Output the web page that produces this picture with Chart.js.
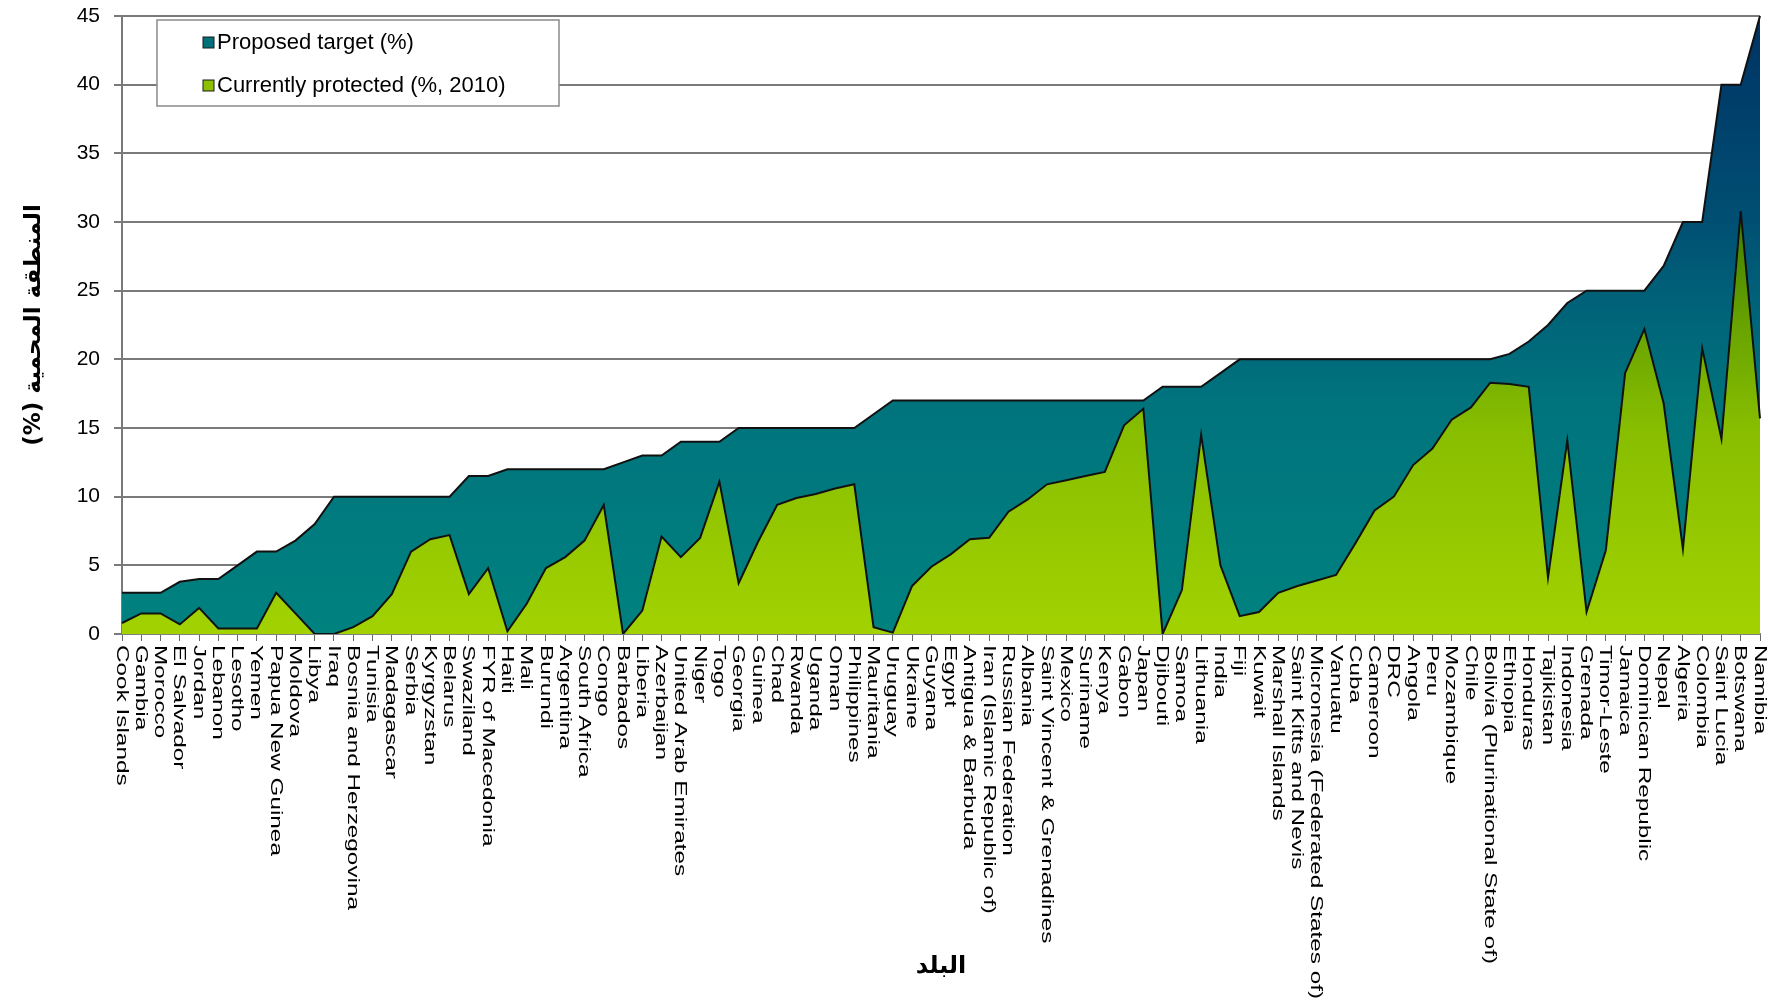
<!DOCTYPE html>
<html>
<head>
<meta charset="utf-8">
<title>Protected areas</title>
<script src="https://cdn.jsdelivr.net/npm/chart.js@4.4.1/dist/chart.umd.min.js"></script>
<style>
  html, body { margin: 0; padding: 0; background: #fff; }
  #wrap { width: 1784px; height: 1001px; position: relative; }
</style>
</head>
<body>
<div id="wrap"><canvas id="areaChart"></canvas></div>
<script>
// countries, ordered as in the original figure
var countries = [
    'Cook Islands', 'Gambia', 'Morocco', 'El Salvador', 'Jordan', 'Lebanon', 'Lesotho', 'Yemen',
    'Papua New Guinea', 'Moldova', 'Libya', 'Iraq', 'Bosnia and Herzegovina', 'Tunisia', 'Madagascar',
    'Serbia', 'Kyrgyzstan', 'Belarus', 'Swaziland', 'FYR of Macedonia', 'Haiti', 'Mali', 'Burundi',
    'Argentina', 'South Africa', 'Congo', 'Barbados', 'Liberia', 'Azerbaijan', 'United Arab Emirates',
    'Niger', 'Togo', 'Georgia', 'Guinea', 'Chad', 'Rwanda', 'Uganda', 'Oman', 'Philippines',
    'Mauritania', 'Uruguay', 'Ukraine', 'Guyana', 'Egypt', 'Antigua & Barbuda',
    'Iran (Islamic Republic of)', 'Russian Federation', 'Albania', 'Saint Vincent & Grenadines',
    'Mexico', 'Suriname', 'Kenya', 'Gabon', 'Japan', 'Djibouti', 'Samoa', 'Lithuania', 'India', 'Fiji',
    'Kuwait', 'Marshall Islands', 'Saint Kitts and Nevis', 'Micronesia (Federated States of)',
    'Vanuatu', 'Cuba', 'Cameroon', 'DRC', 'Angola', 'Peru', 'Mozambique', 'Chile',
    'Bolivia (Plurinational State of)', 'Ethiopia', 'Honduras', 'Tajikistan', 'Indonesia', 'Grenada',
    'Timor-Leste', 'Jamaica', 'Dominican Republic', 'Nepal', 'Algeria', 'Colombia', 'Saint Lucia',
    'Botswana', 'Namibia'
];

var proposedTarget = [
    3, 3, 3, 3.8, 4, 4, 5, 6, 6, 6.8, 8, 10, 10, 10, 10, 10, 10, 10, 11.5, 11.5,
    12, 12, 12, 12, 12, 12, 12.5, 13, 13, 14, 14, 14, 15, 15, 15, 15, 15, 15, 15, 16,
    17, 17, 17, 17, 17, 17, 17, 17, 17, 17, 17, 17, 17, 17, 18, 18, 18, 19, 20, 20,
    20, 20, 20, 20, 20, 20, 20, 20, 20, 20, 20, 20, 20.4, 21.3, 22.5, 24.1, 25, 25, 25, 25,
    26.8, 30, 30, 40, 40, 45
];

var currentlyProtected = [
    0.8, 1.5, 1.5, 0.7, 1.9, 0.4, 0.4, 0.4, 3.0, 1.5, 0, 0, 0.5, 1.3, 2.9, 6.0, 6.9, 7.2, 2.9, 4.8,
    0.2, 2.2, 4.8, 5.6, 6.8, 9.4, 0, 1.7, 7.1, 5.6, 7.0, 11.1, 3.7, 6.7, 9.4, 9.9, 10.2, 10.6, 10.9, 0.5,
    0.1, 3.5, 4.9, 5.8, 6.9, 7.0, 8.9, 9.8, 10.9, 11.2, 11.5, 11.8, 15.2, 16.4, 0, 3.2, 14.5, 5.0, 1.3, 1.6,
    3.0, 3.5, 3.9, 4.3, 6.6, 9.0, 10.0, 12.3, 13.5, 15.6, 16.5, 18.3, 18.2, 18.0, 4.1, 14.1, 1.6, 6.1, 19.0, 22.2,
    16.8, 6.2, 20.8, 14.2, 30.8, 15.7
];

var yTicks = [0, 5, 10, 15, 20, 25, 30, 35, 40, 45];

var FONT = '"Liberation Sans", Arial, Helvetica, sans-serif';
var AR_FONT = '"DejaVu Sans", "Noto Sans", sans-serif';

// vertical gradient tied to the y scale
function vGrad(context, stops) {
    var chart = context.chart;
    if (!chart.chartArea) return stops[0][1];
    var y = chart.scales.y;
    var g = chart.ctx.createLinearGradient(0, y.getPixelForValue(0), 0, y.getPixelForValue(45));
    stops.forEach(function(s) { g.addColorStop(s[0], s[1]); });
    return g;
}

var tealStops = [[0, '#00827f'], [0.38, '#00737d'], [0.56, '#005f78'], [0.67, '#004f72'], [0.9, '#003b69'], [1, '#00325f']];
var greenStops = [[0, '#a2d200'], [0.33, '#88be00'], [0.5, '#68a300'], [0.69, '#3c7b00'], [1, '#2a6000']];

// x labels: rotated clockwise, reading downwards like the original
var xLabelPlugin = {
    id: 'xLabels',
    afterDraw: function(chart) {
        var ctx = chart.ctx;
        var xs = chart.scales.x;
        ctx.save();
        ctx.font = '16px ' + FONT;
        ctx.fillStyle = '#000';
        ctx.textAlign = 'left';
        ctx.textBaseline = 'middle';
        chart.data.labels.forEach(function(lab, i) {
            ctx.save();
            ctx.translate(xs.getPixelForValue(i) - 1, xs.top + 11);
            ctx.rotate(Math.PI / 2);
            ctx.scale(1.52, 1);
            ctx.fillText(lab, 0, 0);
            ctx.restore();
        });
        ctx.restore();
    }
};

// boxed legend inside the plot area
var legendBoxPlugin = {
    id: 'legendBox',
    afterDraw: function(chart) {
        var ctx = chart.ctx;
        var ca = chart.chartArea;
        var x0 = ca.left + 35, y0 = ca.top + 4, w = 402, h = 86;
        ctx.save();
        ctx.fillStyle = '#fff';
        ctx.fillRect(x0, y0, w, h);
        ctx.strokeStyle = '#8a8a8a';
        ctx.lineWidth = 1.5;
        ctx.strokeRect(x0, y0, w, h);
        var items = [
            { text: chart.data.datasets[1].label, color: '#00707a' },
            { text: chart.data.datasets[0].label, color: '#8cc000' }
        ];
        ctx.font = '22px ' + FONT;
        ctx.textBaseline = 'middle';
        ctx.textAlign = 'left';
        items.forEach(function(it, k) {
            var cy = y0 + 23 + k * 43;
            ctx.fillStyle = it.color;
            ctx.fillRect(x0 + 46, cy - 6, 11, 11);
            ctx.strokeStyle = '#1a1a1a';
            ctx.lineWidth = 1;
            ctx.strokeRect(x0 + 46, cy - 6, 11, 11);
            ctx.fillStyle = '#000';
            ctx.fillText(it.text, x0 + 60, cy);
        });
        ctx.restore();
    }
};

var ctx = document.getElementById('areaChart').getContext('2d');
var areaChart = new Chart(ctx, {
    type: 'line',
    data: {
        labels: countries,
        datasets: [
            {
                label: 'Currently protected (%, 2010)',
                data: currentlyProtected,
                fill: 'origin',
                backgroundColor: function(c) { return vGrad(c, greenStops); },
                borderColor: '#111',
                borderWidth: 2,
                pointRadius: 0,
                tension: 0
            },
            {
                label: 'Proposed target (%)',
                data: proposedTarget,
                fill: 'origin',
                backgroundColor: function(c) { return vGrad(c, tealStops); },
                borderColor: '#111',
                borderWidth: 2,
                pointRadius: 0,
                tension: 0
            }
        ]
    },
    options: {
        responsive: true,
        maintainAspectRatio: false,
        animation: false,
        layout: { padding: { top: 16, right: 24, left: 0, bottom: 0 } },
        plugins: {
            legend: { display: false },
            tooltip: { enabled: false }
        },
        scales: {
            x: {
                offset: false,
                grid: { display: true, drawOnChartArea: false, drawTicks: true, tickLength: 7, tickColor: '#666', lineWidth: 1 },
                border: { display: true, color: '#808080', width: 2 },
                ticks: { display: false, autoSkip: false },
                title: {
                    display: true,
                    text: 'البلد',
                    color: '#000',
                    font: { family: AR_FONT, size: 24, weight: 'bold' },
                    padding: { top: 0, bottom: 20 }
                },
                afterFit: function(scale) { scale.height = 367; }
            },
            y: {
                min: 0,
                max: 45,
                afterBuildTicks: function(scale) {
                    scale.ticks = yTicks.map(function(v) { return { value: v }; });
                },
                ticks: { color: '#000', padding: 14, font: { family: FONT, size: 21 } },
                grid: { color: '#7a7a7a', lineWidth: 2, tickLength: 8, tickColor: '#7a7a7a' },
                border: { display: true, color: '#7a7a7a', width: 2 },
                title: {
                    display: true,
                    text: 'المنطقة المحمية (%)\u200F',
                    color: '#000',
                    font: { family: AR_FONT, size: 23, weight: 'bold' },
                    padding: { top: 20, bottom: 0 }
                },
                afterFit: function(scale) {
                    scale.width = 122;
                    scale.paddingTop = 4;
                    scale.paddingBottom = 4;
                }
            }
        }
    },
    plugins: [xLabelPlugin, legendBoxPlugin]
});
</script>
</body>
</html>
